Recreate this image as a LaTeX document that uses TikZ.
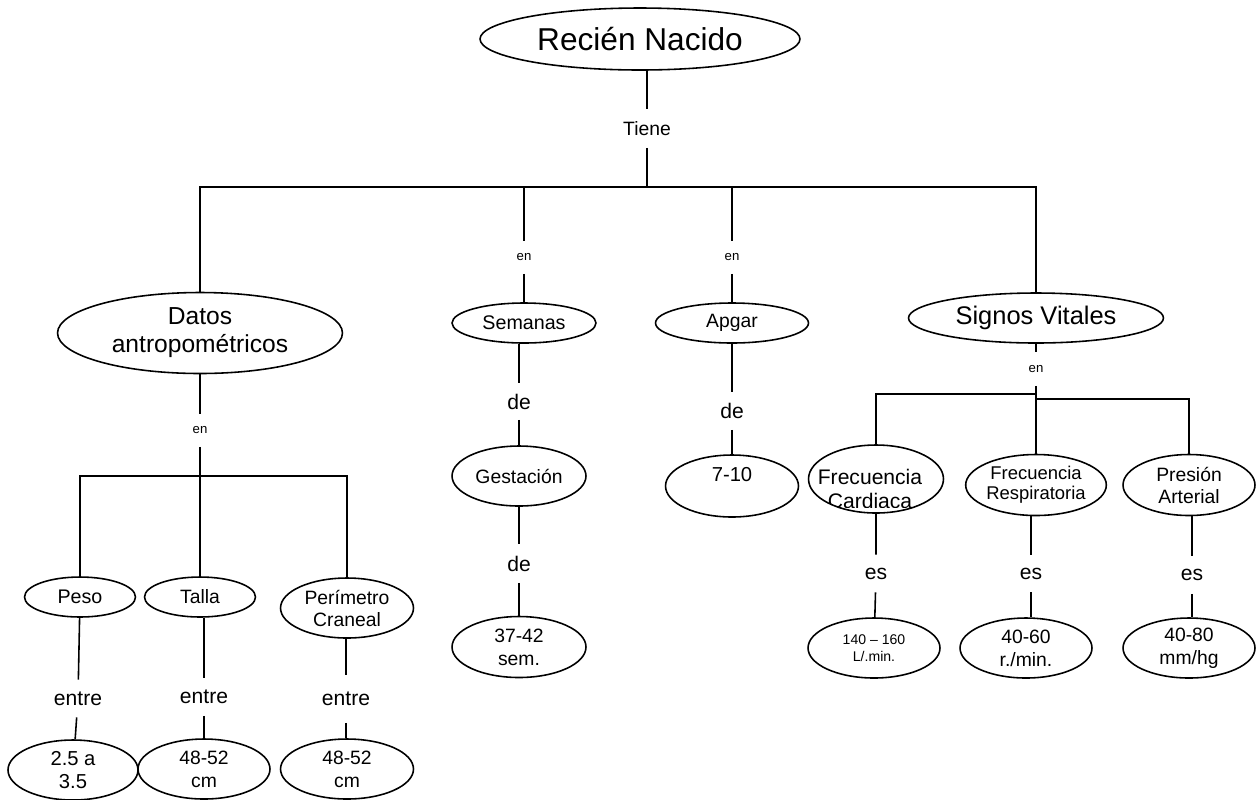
\documentclass[tikz,border=0pt]{standalone}
\usepackage{fontspec}
\setmainfont{Liberation Sans}
\usetikzlibrary{shapes.geometric}

\newcommand{\fs}[2]{\fontsize{#1}{#2}\selectfont}

\begin{document}
\begin{tikzpicture}[x=0.02cm, y=-0.02cm, line width=0.9pt,
        oval/.style 2 args={draw, ellipse, inner sep=0pt, align=center,
            minimum width=#1cm, minimum height=#2cm},
        enlace/.style={inner sep=0pt, minimum height=#1cm},
        enlace/.default=0.72]
        \useasboundingbox (0,0) rectangle (1257,799);
        \clip (0,0) rectangle (1257,799);

        % Raíz
        \node[oval={6.4}{1.24}, font=\fs{18}{21}] (rn) at (640,39) {Recién Nacido};
        \node[enlace=0.74, font=\fs{11}{13}] (tiene) at (647,128.5) {Tiene};
        \coordinate (t) at (647,187);
        \draw (rn.south -| tiene) -- (tiene) -- (t);

        % Segundo nivel
        \node[oval={5.7}{1.62}, font=\fs{14}{16}] (datos) at (200,333) {Datos\\antropométricos};
        \node[enlace=0.62, font=\fs{7.5}{9}] (en1) at (524,257.5) {en};
        \node[oval={2.88}{0.8}, font=\fs{11.2}{13}] (semanas) at (524,323) {Semanas};
        \node[enlace=0.62, font=\fs{7.5}{9}] (en2) at (732,257.5) {en};
        \node[oval={3.06}{0.8}, font=\fs{11}{13}] (apgar) at (732,323) {Apgar};
        \node[oval={5.1}{1.0}, font=\fs{14.5}{17}] (signos) at (1036,318) {Signos Vitales};

        \draw (t) -| (datos);
        \draw (t) -| (en1) (en1) -- (semanas);
        \draw (t) -| (en2) (en2) -- (apgar);
        \draw (t) -| (signos);

        % Datos antropométricos
        \node[enlace=0.62, font=\fs{7.5}{9}] (en3) at (200,430.5) {en};
        \coordinate (da) at (200,476);
        \draw (datos) -- (en3) -- (da);

        \node[oval={2.22}{0.8}, font=\fs{11.2}{13}] (peso) at (80,597) {Peso};
        \node[oval={2.22}{0.8}, font=\fs{11}{13}] (talla) at (200,597) {Talla};
        \node[oval={2.66}{1.2}, font=\fs{11}{12.5}] (perimetro) at (347,608) {Perímetro\\Craneal};
        \draw (da) -| (peso);
        \draw (da) -- (talla);
        \draw (da) -| (perimetro);

        \node[enlace, font=\fs{12}{14}] (entre1) at (78,698.5) {entre};
        \node[enlace, font=\fs{12}{14}] (entre2) at (204,697) {entre};
        \node[enlace=0.92, font=\fs{12}{14}] (entre3) at (346,699) {entre};

        \node[oval={2.6}{1.2}, font=\fs{11.5}{13}] (peso v) at (73,770) {2.5 a\\3.5};
        \node[oval={2.64}{1.2}, font=\fs{11}{13}] (talla v) at (204,769) {48-52\\cm};
        \node[oval={2.66}{1.2}, font=\fs{11}{13}] (perimetro v) at (347,769) {48-52\\cm};

        \draw (peso) -- (entre1) -- (peso v);
        \draw (talla.south -| entre2) -- (entre2) -- (talla v);
        \draw (perimetro.south -| entre3) -- (entre3) -- (entre3 |- perimetro v.north);

        % Semanas de gestación
        \node[enlace=0.7, font=\fs{12}{14}] (de1) at (519,401.5) {de};
        \node[oval={2.68}{1.2}, font=\fs{11}{13}] (gestacion) at (519,476) {Gestación};
        \node[enlace=0.74, font=\fs{12}{14}] (de2) at (519,563.5) {de};
        \node[oval={2.68}{1.22}, font=\fs{11}{13}] (gestacion v) at (519,647) {37-42\\sem.};
        \draw (semanas.south -| de1) -- (de1) -- (gestacion);
        \draw (gestacion) -- (de2) -- (gestacion v);

        % Apgar
        \node[enlace=0.72, font=\fs{12}{14}] (de3) at (732,411) {de};
        \node[oval={2.66}{1.24}, font=\fs{11.5}{13.6}] (apgar v) at (732,486) {7-10\\\mbox{}};
        \draw (apgar) -- (de3) -- (apgar v);

        % Signos vitales
        \node[enlace=0.64, font=\fs{7.5}{9}] (en4) at (1036,369) {en};
        \coordinate (sv) at (1036,394);
        \coordinate (sv2) at (1036,399);
        \draw (signos) -- (en4);

        \node[oval={2.7}{1.36}, path picture={
            \clip (path picture bounding box.north west) rectangle ([yshift=0.12cm]path picture bounding box.south east);
            \node[font=\fs{12}{13.6}, align=center] (fc txt) at ([xshift=-0.12cm, yshift=-0.2cm]path picture bounding box.center) {Frecuencia\\Cardiaca};
        }] (fc) at (876,479) {};
        \node[oval={2.64}{1.22}, font=\fs{10.5}{11.5}] (fr) at (1036,485) {Frecuencia\\Respiratoria};
        \node[oval={2.64}{1.22}, font=\fs{11}{12.5}] (pa) at (1189,485) {Presión\\Arterial};

        \draw (en4) -- (sv) -- (fr);
        \draw (sv) -| (fc);
        \draw (sv2) -| (pa);

        \node[enlace, font=\fs{12}{14}] (es1) at (876,573.5) {es};
        \node[enlace, font=\fs{12}{14}] (es2) at (1031,573.5) {es};
        \node[enlace, font=\fs{12}{14}] (es3) at (1192,575) {es};

        \node[oval={2.64}{1.2}, font=\fs{8}{10}] (fc v) at (874,648) {140 -- 160\\L/.min.};
        \node[oval={2.64}{1.2}, font=\fs{11}{13}] (fr v) at (1026,648) {40-60\\r./min.};
        \node[oval={2.64}{1.2}, font=\fs{11}{13}] (pa v) at (1189,648) {40-80\\mm/hg};

        \draw (fc) -- (es1) -- (fc v);
        \draw (fr.south -| es2) -- (es2) -- (es2 |- fr v.north);
        \draw (pa.south -| es3) -- (es3) -- (es3 |- pa v.north);
    \end{tikzpicture}
\end{document}
